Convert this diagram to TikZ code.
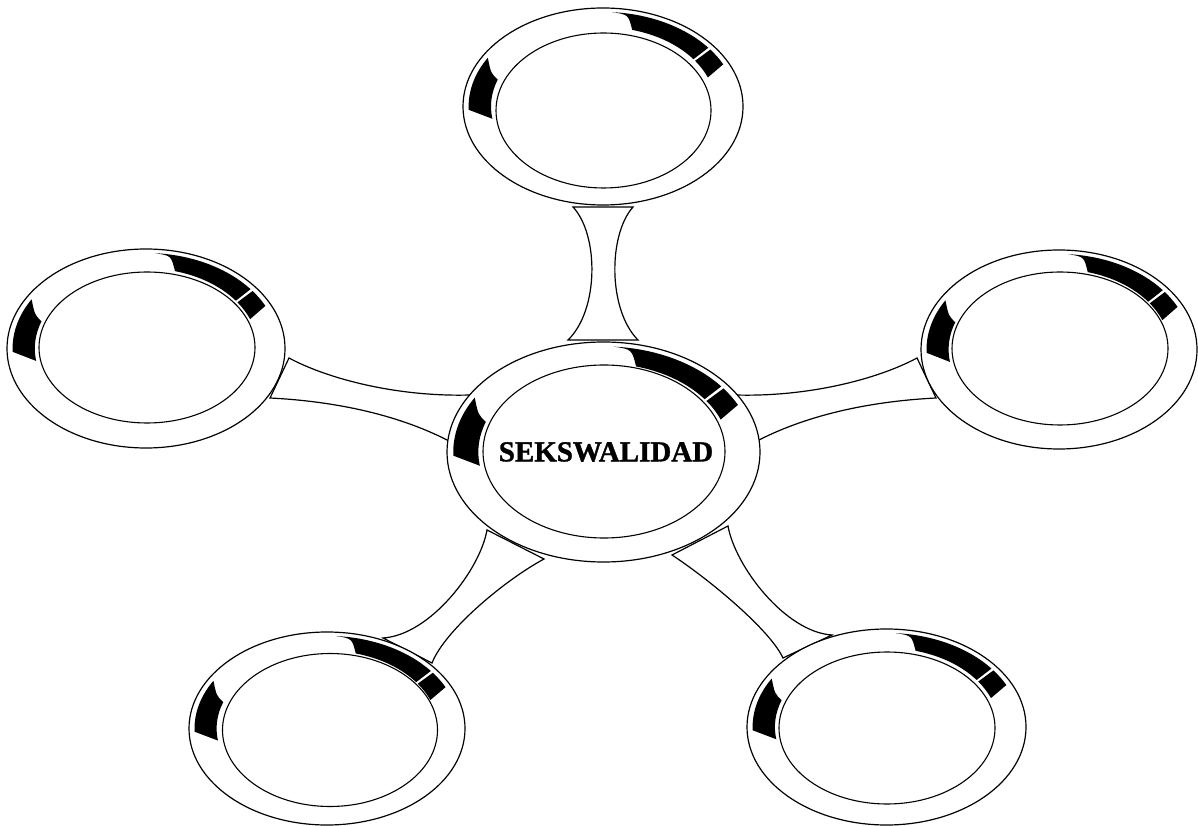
\documentclass[tikz,border=0pt]{standalone}
\usepackage{fontspec}
\newfontfamily\labelfont[BoldFeatures={FakeBold=1.2}]{Liberation Serif}
\usetikzlibrary{shapes.geometric}
\tikzset{
  ring/.style={ellipse, draw, fill=white, line width=1.2pt, inner sep=0pt, outer sep=0pt},
  hole/.style={ellipse, draw, line width=1.1pt, inner sep=0pt, outer sep=0pt},
  conn/.style={draw, fill=white, line width=1.2pt, line join=miter},
  bandfill/.style={fill=black},
}
\newcommand\ringbands[3]{%
  \begin{scope}[shift={(#1.center)}, xscale=#2, yscale=#3]
    \fill[bandfill] (86:0.96) arc[start angle=86, end angle=38.4, radius=0.96]
      -- (36.6:0.805) arc[start angle=36.6, end angle=75, radius=0.805]
      .. controls (79:0.95) .. (86:0.96) -- cycle;
    \fill[bandfill] (37:0.96) arc[start angle=37, end angle=26.5, radius=0.96]
      -- (21.5:0.805) arc[start angle=21.5, end angle=35.2, radius=0.805] -- cycle;
    \fill[bandfill] (149:0.96) arc[start angle=149, end angle=182, radius=0.96]
      -- (189:0.8) arc[start angle=189, end angle=160, radius=0.8]
      .. controls (157:0.87) .. (149:0.96) -- cycle;
  \end{scope}}
\begin{document}
\begin{tikzpicture}[x=1pt, y=1pt]
\useasboundingbox (0,0) rectangle (1198,825);
% connector corners
\coordinate (tA) at (573,618); \coordinate (tB) at (633,618);
\coordinate (tC) at (638,485); \coordinate (tD) at (568,485);
\coordinate (lA) at (289,467); \coordinate (lB) at (470,430);
\coordinate (lC) at (449,384); \coordinate (lD) at (270,427);
\coordinate (rA) at (917,467); \coordinate (rB) at (736,430);
\coordinate (rC) at (757,384); \coordinate (rD) at (936,427);
\coordinate (blA) at (487,295); \coordinate (blB) at (544,266);
\coordinate (blC) at (432,162); \coordinate (blD) at (383,187);
\coordinate (brA) at (728,299); \coordinate (brB) at (672,270);
\coordinate (brC) at (783,167); \coordinate (brD) at (832,190);
% connectors
\draw[conn] (tA) .. controls (599,590) and (599,515) .. (tD) -- (tC)
  .. controls (608,515) and (608,590) .. (tB) -- cycle;
\draw[conn] (lA) .. controls (330,445) and (400,428) .. (lB) -- (lC)
  .. controls (395,412) and (330,424) .. (lD) -- cycle;
\draw[conn] (rA) .. controls (876,445) and (806,428) .. (rB) -- (rC)
  .. controls (811,412) and (876,424) .. (rD) -- cycle;
\draw[conn] (blA) .. controls (480,255) and (430,190) .. (blD) -- (blC)
  .. controls (445,195) and (505,245) .. (blB) -- cycle;
\draw[conn] (brA) .. controls (735,259) and (785,193) .. (brD) -- (brC)
  .. controls (770,195) and (710,245) .. (brB) -- cycle;
% outer rings
\node[ring, minimum width=280pt, minimum height=197pt] (nTop) at (603,718.5) {};
\node[ring, minimum width=313pt, minimum height=220pt] (nMid) at (603.5,373) {};
\node[ring, minimum width=278pt, minimum height=199pt] (nLeft) at (146,476.5) {};
\node[ring, minimum width=276pt, minimum height=199pt] (nRight) at (1059,475.5) {};
\node[ring, minimum width=276pt, minimum height=193pt] (nBL) at (327,96.5) {};
\node[ring, minimum width=279pt, minimum height=196pt] (nBR) at (886.5,98) {};
% black bevel bands
\ringbands{nTop}{140}{98.5}
\ringbands{nMid}{156.5}{110}
\ringbands{nLeft}{139}{99.5}
\ringbands{nRight}{138}{99.5}
\ringbands{nBL}{138}{96.5}
\ringbands{nBR}{139.5}{98}
% inner ellipses
\node[hole, minimum width=215pt, minimum height=155pt] (iTop) at (603.5,714.5) {};
\node[hole, minimum width=242pt, minimum height=173pt] (iMid) at (604,373.5) {};
\node[hole, minimum width=216pt, minimum height=151pt] (iLeft) at (147,477.5) {};
\node[hole, minimum width=216pt, minimum height=153pt] (iRight) at (1060,476.5) {};
\node[hole, minimum width=215pt, minimum height=153pt] (iBL) at (330,95) {};
\node[hole, minimum width=216pt, minimum height=152pt] (iBR) at (887,97) {};
% label
\node[font=\labelfont\fontsize{29}{34}\selectfont\bfseries, inner sep=0pt] (lbl) at (606,373) {SEKSWALIDAD};
\end{tikzpicture}
\end{document}
